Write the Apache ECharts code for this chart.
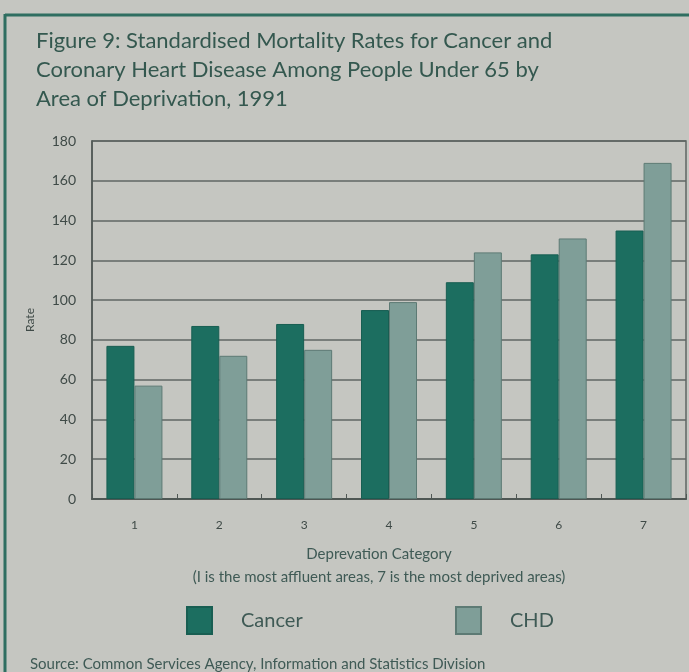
<!DOCTYPE html>
<html><head><meta charset="utf-8">
<script src="https://cdn.jsdelivr.net/npm/echarts@6/dist/echarts.min.js"></script>
<style>html,body{margin:0;padding:0;background:#c5c6c1;}#c{width:689px;height:672px;}</style>
</head><body><div id="c"></div>
<script>
const categories = ['1','2','3','4','5','6','7'];
const cancer = [77, 87, 88, 95, 109, 123, 135];
const chd = [57, 72, 75, 99, 124, 131, 169];
const yTicks = {min: 0, max: 180, interval: 20};
const titleText = 'Figure 9: Standardised Mortality Rates for Cancer and\nCoronary Heart Disease Among People Under 65 by\nArea of Deprivation, 1991';
const xName = 'Deprevation Category';
const xSub = '(I is the most affluent areas, 7 is the most deprived areas)';
const source = 'Source: Common Services Agency, Information and Statistics Division';
const FONT = 'Lato';
const chart = echarts.init(document.getElementById('c'), null, {renderer: 'canvas'});
chart.setOption({
  backgroundColor: '#c5c6c1',
  animation: false,
  textStyle: {fontFamily: FONT},
  title: [
    {text: titleText, left: 31, top: 21, textStyle: {fontFamily: FONT, fontSize: 22, fontWeight: 'normal', color: '#34584f', lineHeight: 29}},
    {text: xName + '\n' + xSub, left: 374, top: 538, textAlign: 'center', textStyle: {fontFamily: FONT, fontSize: 15, fontWeight: 'normal', color: '#3f5a55', lineHeight: 23, align: 'center'}},
    {text: source, left: 25, top: 652, textStyle: {fontFamily: FONT, fontSize: 15, fontWeight: 'normal', color: '#3f5a55'}}
  ],
  legend: [
    {data: ['Cancer'], left: 181, top: 601, itemWidth: 25, itemHeight: 27, icon: 'rect', textStyle: {fontFamily: FONT, fontSize: 20, color: '#3f5a55', padding: [0, 0, 0, 24]}},
    {data: ['CHD'], left: 450, top: 601, itemWidth: 25, itemHeight: 27, icon: 'rect', textStyle: {fontFamily: FONT, fontSize: 20, color: '#3f5a55', padding: [0, 0, 0, 24]}}
  ],
  grid: {left: 92, right: 3, top: 141, bottom: 173, show: true, borderColor: '#5f6663', borderWidth: 1.5, backgroundColor: 'transparent'},
  xAxis: {
    type: 'category', data: categories,
    axisLine: {lineStyle: {color: '#4f5754', width: 2}},
    axisTick: {show: true, inside: true, length: 5, lineStyle: {color: '#4f5754'}},
    axisLabel: {fontFamily: FONT, fontSize: 12, color: '#3f4a47', margin: 20}
  },
  yAxis: {
    type: 'value', min: yTicks.min, max: yTicks.max, interval: yTicks.interval,
    name: 'Rate', nameLocation: 'middle', nameGap: 56, nameRotate: 90,
    nameTextStyle: {fontFamily: FONT, fontSize: 12, color: '#3f4a47'},
    axisLine: {show: true, lineStyle: {color: '#4f5754', width: 1.5}},
    axisTick: {show: false},
    axisLabel: {fontFamily: FONT, fontSize: 14, color: '#3f4a47', margin: 16},
    splitLine: {lineStyle: {color: '#5f6663', width: 1.5}}
  },
  series: [
    {name: 'Cancer', type: 'bar', data: cancer, barWidth: 28, barGap: '0%', itemStyle: {color: '#1c6e60', borderColor: '#185e52', borderWidth: 1}},
    {name: 'CHD', type: 'bar', data: chd, barWidth: 28, barGap: '0%', itemStyle: {color: '#7f9e98', borderColor: '#5d7a74', borderWidth: 1}}
  ],
  graphic: [
    {type: 'line', shape: {x1: 5, y1: 15, x2: 689, y2: 15}, style: {stroke: '#2f6e61', lineWidth: 3}},
    {type: 'line', shape: {x1: 5, y1: 14, x2: 5, y2: 672}, style: {stroke: '#2f6e61', lineWidth: 3}}
  ]
});
</script></body></html>
